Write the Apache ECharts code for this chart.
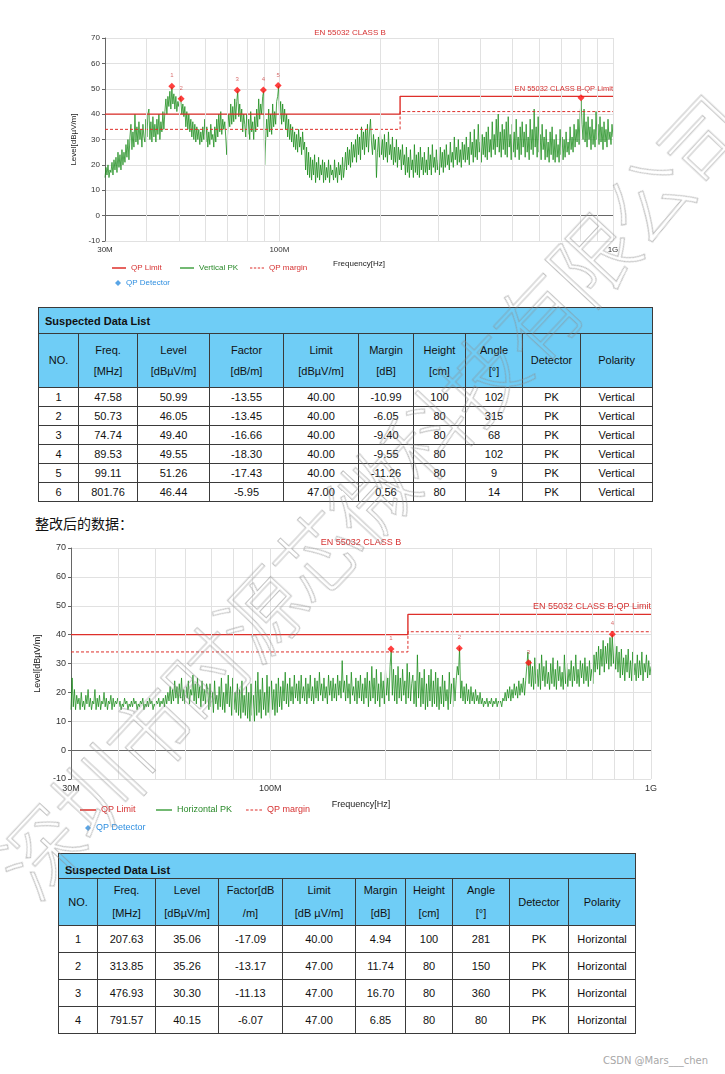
<!DOCTYPE html>
<html>
<head>
<meta charset="utf-8">
<script src="https://cdn.jsdelivr.net/npm/echarts@6/dist/echarts.min.js"></script>
<style>
  body { margin: 0; background: #fff; }
  #page { position: relative; width: 725px; height: 1074px; overflow: hidden; background: #fff;
          font-family: "Liberation Sans", Arial, sans-serif; }
  #c1 { position: absolute; left: 0; top: 0; width: 725px; height: 300px; }
  #c2 { position: absolute; left: 0; top: 530px; width: 725px; height: 320px; }
  table { position: absolute; border-collapse: collapse; table-layout: fixed; color: #111;
          font-family: "Liberation Sans", Arial, sans-serif; font-size: 11px; }
  td { border: 1px solid #3a3a3a; text-align: center; padding: 0; white-space: nowrap; }
  td.ttl { background: #6fcdf6; text-align: left; font-weight: bold; padding-left: 6px; }
  td.hd { background: #6fcdf6; }
  #t1 { left: 38px; top: 307px; width: 614px; }
  #t2 { left: 58px; top: 853px; width: 577px; }
  #cn { position: absolute; left: 35px; top: 513px; font-size: 14px; color: #111;
        font-family: "Noto Sans CJK SC", sans-serif; }
  #csdn { position: absolute; right: 17px; top: 1055px; font-size: 10px; color: #a8a8a8;
          font-family: "DejaVu Sans", sans-serif; }
  #wm { position: absolute; left: 368px; top: 494px; transform: translate(-50%, -50%) rotate(-47deg);
        font-size: 84px; font-family: "Noto Sans CJK SC", sans-serif; font-weight: 300; color: transparent;
        -webkit-text-stroke: 1px rgba(140,140,140,0.55); white-space: nowrap; pointer-events: none;
        z-index: 10; letter-spacing: -3px; }
</style>
</head>
<body>
<div id="page">
  <div id="c1"></div>
  <table id="t1"></table>
  <div id="cn">整改后的数据：</div>
  <div id="c2"></div>
  <table id="t2"></table>
  <div id="csdn">CSDN @Mars___chen</div>
  <div id="wm">深圳市时源芯微科技有限公司</div>
</div>
<script>
// ---------------- data ----------------
const sweepStartMHz = 30;
const sweepStopMHz = 1000;

// Vertical PK trace (dBuV/m), read along the sweep (30 MHz .. 1 GHz, log steps)
const vertPK = [
  15,19,16,20,15,18,17,21,16,22,18,23,17,25,19,24,18,26,20,25,
  21,28,23,30,22,31,36,26,33,27,40,29,35,28,37,30,34,27,36,31,
  29,38,31,40,42,30,37,29,39,31,36,29,38,32,40,30,37,33,41,34,
  41,46,40,47,43,49,42,50.5,44,48,42,47,41,45,43,47,45.5,40,44,39,
  43,35,41,34,40,33,38,31,37,30,36,29,35,30,34,28,33,29,35,30,
  38,29,35,27,33,28,36,30,32,27,35,29,38,31,40,33,41,32,38,34,
  37,31,24,34,40,35,44,36,43,37,46,38,45,49,39,44,37,42,33,40,
  36,31,40,32,38,30,41,33,37,30,39,33,42,35,46,38,44,40,47,49,
  20,30,38,31,42,33,40,32,44,35,41,36,45,47,51,38,45,36,44,37,
  42,34,40,31,38,30,36,29,35,27,33,26,32,25,34,27,31,24,33,26,
  29,18,27,16,25,15,23,14,22,16,24,13,21,15,23,14,20,16,22,13,
  21,14,19,15,22,13,20,16,18,14,22,15,19,13,21,16,20,14,23,15,
  19,25,18,27,20,26,19,29,21,28,23,30,21,32,24,31,22,35,26,33,
  24,34,27,36,25,33,38,29,24,32,26,30,15,25,31,23,33,24,30,22,
  32,23,29,21,33,24,28,22,31,20,27,21,30,19,27,22,26,18,28,20,
  24,16,27,17,23,15,26,18,22,15,28,17,24,16,25,15,27,18,23,16,
  25,17,22,16,27,18,24,16,28,19,23,17,26,18,22,16,27,19,25,17,
  26,19,28,20,24,18,29,21,25,19,31,22,27,20,30,21,26,19,29,22,
  28,21,31,22,27,20,33,24,29,21,34,23,30,22,36,25,29,21,32,24,
  31,23,33,22,35,25,30,23,37,26,32,24,38,27,40,25,33,23,36,26,
  34,24,37,23,39,27,32,22,36,25,33,23,38,26,31,22,35,24,37,27,
  33,23,36,25,31,22,38,26,34,24,42,27,35,23,39,25,32,22,36,26,
  31,22,34,23,29,21,33,24,35,22,30,21,32,23,28,21,34,24,31,22,
  30,23,33,25,29,24,35,26,31,25,36,27,34,29,38,28,40,45.5,36,30,
  42,29,37,27,39,30,35,26,38,28,34,27,41,30,36,28,39,29,35,26,
  37,29,34,27,38,30,33,28,36,31
];

// Horizontal PK trace (dBuV/m), read along the same sweep
const horzPK = [
  14,25,15,21,14,19,16,18,14,20,15,17,14,19,16,21,15,18,14,17,
  16,21,14,18,15,19,14,17,16,20,15,18,14,17,16,19,14,18,15,17,
  16,18,15,17,14,16,15,18,16,17,14,16,15,17,15,18,16,17,14,16,
  15,17,16,18,14,16,15,17,15,18,16,17,14,16,15,17,16,18,15,17,
  16,18,15,19,16,20,17,22,16,21,17,24,18,22,16,23,18,25,17,21,
  16,22,18,24,16,21,19,26,17,23,16,25,18,22,15,24,17,21,16,23,
  21,14,23,15,20,13,24,16,19,14,22,15,25,14,20,13,23,16,26,15,
  22,12,25,14,20,13,23,12,21,11,24,13,19,12,22,11,20,10,23,12,
  19,10,24,12,27,13,21,11,25,14,20,12,26,13,22,11,24,14,21,12,
  23,13,25,15,22,14,24,17,27,16,23,15,25,17,22,16,26,18,23,17,
  24,16,26,18,22,17,25,16,23,18,26,17,22,16,25,18,24,17,27,19,
  23,17,25,18,22,16,26,19,24,17,25,18,23,17,26,19,24,18,31,20,
  24,17,26,18,23,16,27,19,22,17,25,16,24,18,26,17,23,16,25,18,
  27,15,24,17,29,18,25,16,28,17,23,15,27,18,24,16,28,19,25,17,
  29,34.5,19,28,17,26,16,29,18,25,17,28,19,24,16,30,18,27,17,23,
  26,16,24,15,33,18,27,15,25,16,28,14,23,15,26,17,28,15,24,16,
  27,15,25,14,22,16,26,15,24,17,21,14,27,16,23,15,25,17,24,29,
  26,35.5,18,24,17,22,16,23,17,21,16,22,17,20,16,21,17,19,16,20,
  16,18,15,17,16,18,15,17,16,18,15,17,16,18,15,17,16,17,15,18,
  17,20,17,21,18,22,17,21,18,23,19,22,18,24,19,23,20,25,19,24,
  29,34,23,31,22,29,21,32,23,28,22,30,21,33,24,29,22,31,23,27,
  21,30,23,32,22,28,21,31,24,29,22,27,21,33,23,30,22,28,24,31,
  22,29,24,33,23,28,22,31,25,30,23,32,24,29,22,31,24,28,23,33,
  27,34,28,36,26,35,29,38,27,36,30,37,28,39,29,40,30,37,28,36,
  27,34,25,35,26,32,24,33,27,35,25,31,24,34,26,30,24,33,25,31,
  26,34,24,30,27,33,25,31,26,29
];

// EN 55032 Class B QP limit & margin
const limitFreq = [30, 230, 230, 1000];
const qpLimit   = [40, 40, 47, 47];
const qpMargin  = [34, 34, 41, 41];

// axes
const gridFreqs = [40,50,60,70,80,90,100,200,300,400,500,600,700,800,900,1000];
const xTickValues = [30, 100, 1000];
const xTickLabels = ['30M', '100M', '1G'];

// suspected data list - vertical
const v_no       = [1, 2, 3, 4, 5, 6];
const v_freq     = [47.58, 50.73, 74.74, 89.53, 99.11, 801.76];
const v_level    = [50.99, 46.05, 49.40, 49.55, 51.26, 46.44];
const v_factor   = [-13.55, -13.45, -16.66, -18.30, -17.43, -5.95];
const v_limit    = [40.00, 40.00, 40.00, 40.00, 40.00, 47.00];
const v_margin   = [-10.99, -6.05, -9.40, -9.55, -11.26, 0.56];
const v_height   = [100, 80, 80, 80, 80, 80];
const v_angle    = [102, 315, 68, 102, 9, 14];
const v_detector = ['PK', 'PK', 'PK', 'PK', 'PK', 'PK'];
const v_polarity = ['Vertical', 'Vertical', 'Vertical', 'Vertical', 'Vertical', 'Vertical'];
const v_labelShown = [true, true, true, true, true, false];

// suspected data list - horizontal
const h_no       = [1, 2, 3, 4];
const h_freq     = [207.63, 313.85, 476.93, 791.57];
const h_level    = [35.06, 35.26, 30.30, 40.15];
const h_factor   = [-17.09, -13.17, -11.13, -6.07];
const h_limit    = [40.00, 47.00, 47.00, 47.00];
const h_margin   = [4.94, 11.74, 16.70, 6.85];
const h_height   = [100, 80, 80, 80];
const h_angle    = [281, 150, 360, 80];
const h_detector = ['PK', 'PK', 'PK', 'PK'];
const h_polarity = ['Horizontal', 'Horizontal', 'Horizontal', 'Horizontal'];
const h_labelShown = [true, true, true, true];

const t1Headers = [['NO.'], ['Freq.', '[MHz]'], ['Level', '[dBµV/m]'], ['Factor', '[dB/m]'], ['Limit', '[dBµV/m]'],
                   ['Margin', '[dB]'], ['Height', '[cm]'], ['Angle', '[°]'], ['Detector'], ['Polarity']];
const t2Headers = [['NO.'], ['Freq.', '[MHz]'], ['Level', '[dBµV/m]'], ['Factor[dB', '/m]'], ['Limit', '[dB µV/m]'],
                   ['Margin', '[dB]'], ['Height', '[cm]'], ['Angle', '[°]'], ['Detector'], ['Polarity']];

// ---------------- sweep grid ----------------
function sweep(n) {
  const f = [];
  for (let i = 0; i < n; i++) f.push(sweepStartMHz * Math.pow(sweepStopMHz / sweepStartMHz, i / (n - 1)));
  return f;
}

// ---------------- charts ----------------
const RED = '#de2f2a';
const RED_TXT = '#d63232';
const GREEN = '#168a16';
const BLUE = '#2f8fe0';
const DASH_ICON = 'path://M0,0H3V1H0Z M5,0H8V1H5Z M10,0H13V1H10Z M15,0H18V1H15Z';

function legendItem(name, icon, left, top, color, w, h, fs) {
  return { data: [{ name: name, icon: icon }], left: left, top: top, padding: 0, itemWidth: w, itemHeight: h,
           itemGap: 0, selectedMode: false,
           textStyle: { color: color, fontSize: fs, fontFamily: 'Liberation Sans' } };
}

function buildOption(c) {
  const freqs = sweep(c.trace.length);
  const font = 'Liberation Sans';
  return {
    animation: false,
    grid: { left: c.grid[0], top: c.grid[1], width: c.grid[2], height: c.grid[3] },
    graphic: [{
      type: 'text', x: c.titleX, y: c.titleY, silent: true,
      style: { text: 'EN 55032 CLASS B', fill: RED_TXT, font: c.fs + 'px "Liberation Sans"',
               align: 'center', verticalAlign: 'middle' }
    }],
    xAxis: {
      type: 'log', logBase: 10, min: sweepStartMHz, max: sweepStopMHz,
      name: 'Frequency[Hz]', nameLocation: 'middle', nameGap: c.xNameGap,
      nameTextStyle: { color: '#222', fontSize: c.fs, fontFamily: font },
      axisLine: { show: true, lineStyle: { color: '#666', width: 1 } },
      axisTick: { show: false }, splitLine: { show: false }, minorTick: { show: false }, minorSplitLine: { show: false },
      axisLabel: { color: '#333', fontSize: c.fs, fontFamily: font, margin: 5, showMinLabel: true, showMaxLabel: true,
        formatter: function (v) {
          for (let k = 0; k < xTickValues.length; k++) {
            if (Math.abs(v - xTickValues[k]) / xTickValues[k] < 0.01) return xTickLabels[k];
          }
          return '';
        } }
    },
    yAxis: {
      type: 'value', min: -10, max: 70, interval: 10,
      name: 'Level[dBµV/m]', nameLocation: 'middle', nameGap: c.yNameGap,
      nameTextStyle: { color: '#222', fontSize: c.fs, fontFamily: font },
      axisLine: { show: true, lineStyle: { color: '#666', width: 1 } },
      axisTick: { show: true, length: 3, lineStyle: { color: '#666' } },
      axisLabel: { color: '#333', fontSize: c.fs, fontFamily: font, margin: 5 },
      splitLine: { show: true, lineStyle: { color: '#e1e1e1', width: 1 } }
    },
    legend: [
      legendItem('QP Limit', 'rect', c.leg[0][0], c.leg[0][1], RED_TXT, c.legW, 1.5, c.fs),
      legendItem(c.traceName, 'rect', c.leg[1][0], c.leg[1][1], '#2a8a2a', c.legW, 1.2, c.fs),
      legendItem('QP margin', DASH_ICON, c.leg[2][0], c.leg[2][1], RED_TXT, c.legW, 1.2, c.fs),
      legendItem('QP Detector', 'diamond', c.leg[3][0], c.leg[3][1], BLUE, 6, 6, c.fs)
    ],
    series: [
      { type: 'line', name: '_grid', data: [[sweepStartMHz, -10]], symbol: 'none', silent: true, z: 1,
        lineStyle: { opacity: 0 },
        markLine: { silent: true, symbol: ['none', 'none'], label: { show: false }, animation: false,
          lineStyle: { color: '#e1e1e1', type: 'solid', width: 1 },
          data: gridFreqs.map(function (f) { return { xAxis: f }; }) } },
      { type: 'line', name: c.traceName, z: 3, symbol: 'none', silent: true,
        data: freqs.map(function (f, i) { return [f, c.trace[i]]; }),
        lineStyle: { color: GREEN, width: 0.8, opacity: 0.95 }, itemStyle: { color: GREEN } },
      { type: 'line', name: 'QP Limit', z: 4, symbol: 'none', silent: true,
        data: limitFreq.map(function (f, i) { return [f, qpLimit[i]]; }),
        lineStyle: { color: RED, width: 1.4 }, itemStyle: { color: RED },
        markPoint: { silent: true, animation: false,
          data: [{ coord: [limitFreq[limitFreq.length - 1], qpLimit[qpLimit.length - 1]],
                   symbol: 'circle', symbolSize: 1, itemStyle: { color: 'rgba(0,0,0,0)' },
                   label: { show: true, position: 'top', align: 'right', distance: 3,
                            formatter: 'EN 55032 CLASS B-QP Limit', color: RED_TXT,
                            fontSize: c.limFs, fontFamily: font } }] } },
      { type: 'line', name: 'QP margin', z: 4, symbol: 'none', silent: true,
        data: limitFreq.map(function (f, i) { return [f, qpMargin[i]]; }),
        lineStyle: { color: RED, width: 1, type: [3, 2] }, itemStyle: { color: RED } },
      { type: 'scatter', name: 'QP Detector', data: [], symbol: 'diamond', symbolSize: 6,
        itemStyle: { color: BLUE } },
      { type: 'scatter', name: 'Suspected', z: 6, symbol: 'diamond', symbolSize: 7, silent: true,
        itemStyle: { color: '#ff1010' },
        data: c.sFreq.map(function (f, i) {
          return { value: [f, c.sLevel[i]], label: { show: c.sShown[i] } };
        }),
        label: { show: true, position: 'top', distance: 4, fontSize: 6, color: '#d04a4a', fontFamily: font,
                 formatter: function (p) { return String(c.sNo[p.dataIndex]); } } }
    ]
  };
}

const chart1 = echarts.init(document.getElementById('c1'), null, { renderer: 'canvas' });
chart1.setOption(buildOption({
  trace: vertPK, traceName: 'Vertical PK',
  grid: [105, 38, 508, 203], titleX: 350, titleY: 33, fs: 8, limFs: 7.5,
  xNameGap: 19, yNameGap: 21, legW: 14,
  leg: [[112, 264], [180, 264], [250, 264], [115, 279]],
  sFreq: v_freq, sLevel: v_level, sNo: v_no, sShown: v_labelShown
}));

const chart2 = echarts.init(document.getElementById('c2'), null, { renderer: 'canvas' });
chart2.setOption(buildOption({
  trace: horzPK, traceName: 'Horizontal PK',
  grid: [71, 18, 580, 231], titleX: 361, titleY: 13, fs: 9, limFs: 9,
  xNameGap: 21, yNameGap: 27, legW: 16,
  leg: [[80, 275.5], [156, 275.5], [246, 275.5], [85, 293.5]],
  sFreq: h_freq, sLevel: h_level, sNo: h_no, sShown: h_labelShown
}));

// ---------------- tables ----------------
function buildTable(id, widths, hdrs, rows, rowH, titleH, headH, headLH, titlePad) {
  const t = document.getElementById(id);
  let html = '<colgroup>' + widths.map(function (w) { return '<col style="width:' + w + 'px">'; }).join('') + '</colgroup>';
  html += '<tr style="height:' + titleH + 'px"><td class="ttl" colspan="' + widths.length + '" style="' + titlePad + '">Suspected Data List</td></tr>';
  html += '<tr style="height:' + headH + 'px">' + hdrs.map(function (h) {
    return '<td class="hd" style="line-height:' + headLH + 'px">' + h.join('<br>') + '</td>';
  }).join('') + '</tr>';
  rows.forEach(function (r) {
    html += '<tr style="height:' + rowH + 'px">' + r.map(function (v) { return '<td>' + v + '</td>'; }).join('') + '</tr>';
  });
  t.innerHTML = html;
}
function rowsOf(no, fr, lv, fa, li, ma, he, an, de, po) {
  return no.map(function (n, i) {
    return [n, fr[i].toFixed(2), lv[i].toFixed(2), fa[i].toFixed(2), li[i].toFixed(2), ma[i].toFixed(2),
            he[i], an[i], de[i], po[i]];
  });
}
buildTable('t1', [40, 59, 72, 74, 75, 55, 52, 57, 58, 72], t1Headers,
  rowsOf(v_no, v_freq, v_level, v_factor, v_limit, v_margin, v_height, v_angle, v_detector, v_polarity),
  19, 26, 54, 21, 'vertical-align:middle;');
buildTable('t2', [39, 58, 63, 64, 73, 50, 47, 57, 59, 67], t2Headers,
  rowsOf(h_no, h_freq, h_level, h_factor, h_limit, h_margin, h_height, h_angle, h_detector, h_polarity),
  27, 25, 47, 23, 'vertical-align:bottom;padding-bottom:2px;');
</script>
</body>
</html>
